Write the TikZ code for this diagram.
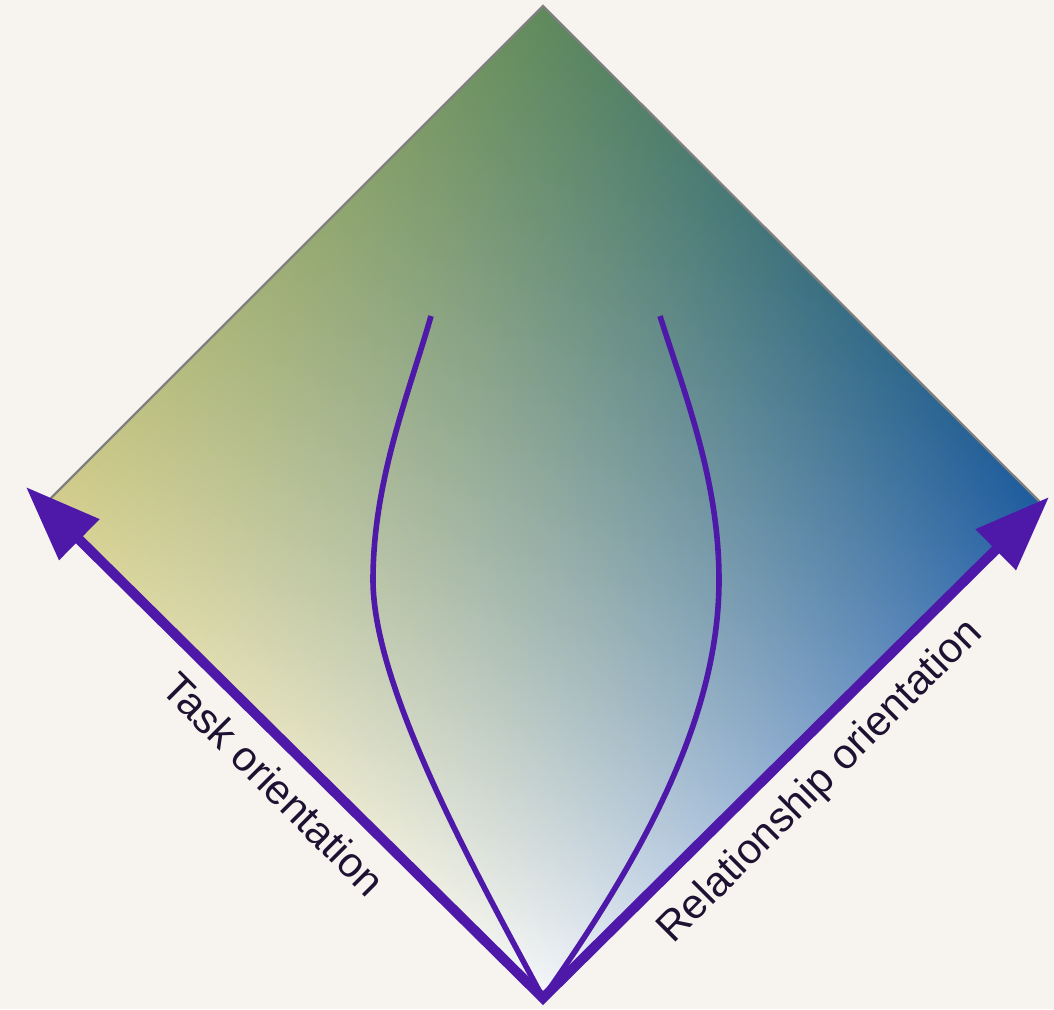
\documentclass[tikz,border=0pt]{standalone}
\usepackage{fontspec}
\setmainfont{Liberation Sans}
\usetikzlibrary{arrows.meta}
\definecolor{paper}{RGB}{247,244,239}
\definecolor{grape}{RGB}{78,24,168}
\definecolor{rim}{RGB}{128,128,128}
\definecolor{ink}{RGB}{30,18,50}
% corner colours of the diamond
\definecolor{basewhite}{RGB}{245,247,249}
\definecolor{taskyellow}{RGB}{212,206,140}
\definecolor{relblue}{RGB}{30,92,160}
\definecolor{topgreen}{RGB}{96,138,92}
\tikzset{
  axis/.style={grape,line width=5pt,line join=miter,
    {Triangle[length=37.5pt,width=27.5pt]}-{Triangle[length=37.5pt,width=27.5pt]}},
  strand/.style={grape,line width=2.8pt},
  lbl/.style={font=\fontsize{21}{25}\selectfont,text=ink,inner sep=0pt},
}
\begin{document}
\begin{tikzpicture}[x=0.5pt,y=-0.5pt]
  \useasboundingbox[fill=paper] (0,0) rectangle (1054,1009);
  % diamond
  \coordinate (top) at (543,6);
  \coordinate (left) at (47,502);
  \coordinate (right) at (1040,502);
  \coordinate (base) at (543,998);
  \begin{scope}[transform canvas={rotate around={-45:(base)}}]
    \clip (-158.45,296.55) rectangle (543,998);
    \foreach \i in {0,...,59}{
      \pgfmathsetmacro{\xa}{543-11.6908*\i}
      \pgfmathsetmacro{\xb}{543-11.6908*(\i+1)-2}
      \pgfmathsetmacro{\p}{(\i+0.5)*5/3}
      \shade[bottom color=taskyellow!\p!basewhite,top color=topgreen!\p!relblue]
        (\xb,296.55) rectangle (\xa,998);
    }
  \end{scope}
  \draw[rim,line width=1.1pt] (base) -- (left) -- (top) -- (right) -- cycle;
  % strands
  \coordinate (lstart) at (431,316);
  \coordinate (rstart) at (660,316);
  \draw[strand] (lstart) .. controls (410,390) and (373,480) .. (373,580)
    .. controls (373,690) and (480,880) .. (base);
  \draw[strand] (rstart) .. controls (685,395) and (719,480) .. (719,580)
    .. controls (719,720) and (640,860) .. (base);
  % axes
  \coordinate (taskend) at (26,487);
  \coordinate (relend) at (1049,497);
  \draw[axis] (taskend) -- (base) -- (relend);
  \node[lbl,rotate=-45] (task) at (274,784) {Task orientation};
  \node[lbl,rotate=45] (rel) at (821,782) {Relationship orientation};
\end{tikzpicture}
\end{document}
